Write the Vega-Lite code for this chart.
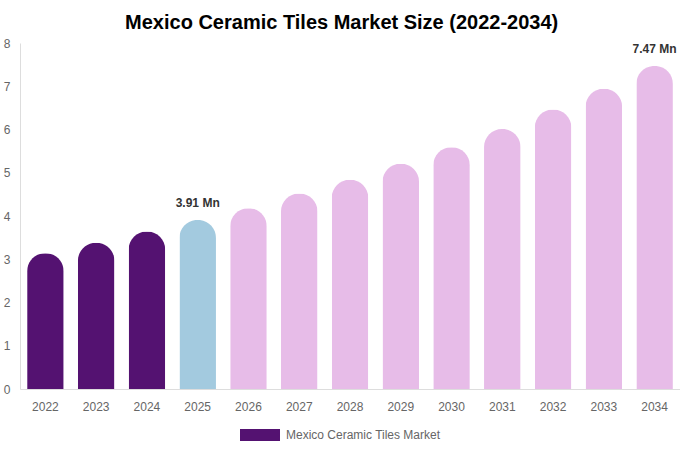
{
  "$schema": "https://vega.github.io/schema/vega-lite/v6.json",
  "width": 660,
  "height": 346,
  "padding": {"left": 3, "top": 13, "right": 0, "bottom": 6},
  "background": "white",
  "title": {
    "text": "Mexico Ceramic Tiles Market Size (2022-2034)",
    "fontSize": 20,
    "fontWeight": "bold",
    "font": "Liberation Sans",
    "color": "#000000",
    "anchor": "middle",
    "frame": "bounds",
    "offset": 4
  },
  "data": {
    "values": [
      {"year": "2022", "value": 3.14, "phase": "historical"},
      {"year": "2023", "value": 3.38, "phase": "historical"},
      {"year": "2024", "value": 3.64, "phase": "historical"},
      {"year": "2025", "value": 3.91, "phase": "base"},
      {"year": "2026", "value": 4.18, "phase": "forecast"},
      {"year": "2027", "value": 4.52, "phase": "forecast"},
      {"year": "2028", "value": 4.84, "phase": "forecast"},
      {"year": "2029", "value": 5.21, "phase": "forecast"},
      {"year": "2030", "value": 5.59, "phase": "forecast"},
      {"year": "2031", "value": 6.01, "phase": "forecast"},
      {"year": "2032", "value": 6.46, "phase": "forecast"},
      {"year": "2033", "value": 6.94, "phase": "forecast"},
      {"year": "2034", "value": 7.47, "phase": "forecast"}
    ]
  },
  "encoding": {
    "x": {
      "field": "year",
      "type": "ordinal",
      "title": null,
      "scale": {"paddingInner": 0.28, "paddingOuter": 0.14},
      "axis": {
        "labelAngle": 0,
        "ticks": false,
        "labelPadding": 12,
        "labelColor": "#666666",
        "labelFontSize": 12,
        "labelFont": "Liberation Sans",
        "domainColor": "#dddddd"
      }
    },
    "y": {
      "field": "value",
      "type": "quantitative",
      "title": null,
      "scale": {"domain": [0, 8]},
      "axis": {
        "values": [0, 1, 2, 3, 4, 5, 6, 7, 8],
        "grid": false,
        "ticks": false,
        "labelPadding": 10,
        "labelColor": "#666666",
        "labelFontSize": 12,
        "labelFont": "Liberation Sans",
        "domainColor": "#dddddd"
      }
    }
  },
  "layer": [
    {
      "mark": {"type": "bar", "cornerRadiusTopLeft": 18, "cornerRadiusTopRight": 18},
      "encoding": {
        "color": {
          "field": "phase",
          "type": "nominal",
          "scale": {
            "domain": ["historical", "base", "forecast"],
            "range": ["#541271", "#a3cadf", "#e7bce8"]
          },
          "legend": {
            "orient": "none",
            "legendX": 220,
            "legendY": 372,
            "title": null,
            "values": ["historical"],
            "labelExpr": "'Mexico Ceramic Tiles Market'",
            "symbolType": "M-1,-0.3H1V0.3H-1Z",
            "symbolSize": 1600,
            "symbolStrokeWidth": 0,
            "labelColor": "#666666",
            "labelFontSize": 12,
            "labelFont": "Liberation Sans",
            "labelOffset": 6
          }
        }
      }
    },
    {
      "transform": [
        {"filter": "datum.year == '2025' || datum.year == '2034'"},
        {"calculate": "format(datum.value, '.2f') + ' Mn'", "as": "label"}
      ],
      "mark": {
        "type": "text",
        "baseline": "bottom",
        "dy": -10,
        "fontSize": 12,
        "fontWeight": "bold",
        "font": "Liberation Sans",
        "color": "#333333"
      },
      "encoding": {
        "text": {"field": "label"}
      }
    }
  ],
  "config": {
    "view": {"stroke": null}
  }
}
